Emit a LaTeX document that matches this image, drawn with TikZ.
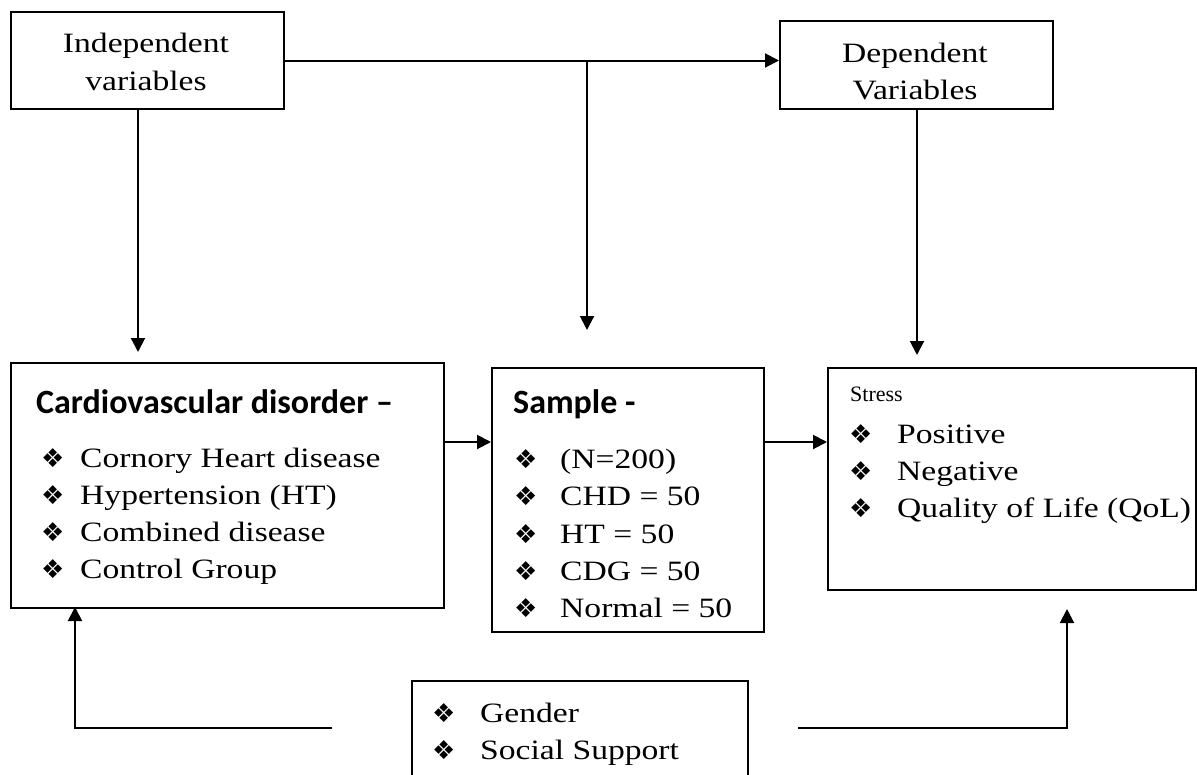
\documentclass[tikz,border=0pt]{standalone}
\usepackage{fontspec}
\setmainfont{Liberation Serif}[FakeStretch=1.2]
\newfontfamily\plainserif{Liberation Serif}
\newfontfamily\headfont{Carlito}
\newfontfamily\symfont{DejaVu Sans}
\usetikzlibrary{arrows.meta}
\begin{document}
\begin{tikzpicture}[x=1pt,y=-1pt,
  box/.style={draw, line width=2pt, anchor=north west, inner sep=0pt},
  arr/.style={line width=2pt, -{Triangle[length=14pt,width=14pt]}},
  itm/.style={anchor=base west, inner sep=0pt, font=\fontsize{28}{28}\selectfont},
  ctr/.style={anchor=base, inner sep=0pt, font=\fontsize{28}{28}\selectfont},
  bul/.style={anchor=base west, inner sep=0pt, font=\symfont\fontsize{26}{26}\selectfont},
  head/.style={anchor=base west, inner sep=0pt, font=\headfont\bfseries\fontsize{34}{34}\selectfont},
]
\useasboundingbox (0,0) rectangle (1197,774);
\clip (0,0) rectangle (1197,774);
% boxes
\node[box, minimum width=273pt, minimum height=97pt] (indep) at (10,11) {};
\node[box, minimum width=273pt, minimum height=88pt] (dep) at (779,20) {};
\node[box, minimum width=433pt, minimum height=245pt] (cardio) at (10,362) {};
\node[box, minimum width=272pt, minimum height=264pt] (sample) at (491,367) {};
\node[box, minimum width=368pt, minimum height=222pt] (stress) at (827,367) {};
\node[box, minimum width=336pt, minimum height=140pt] (mod) at (411,680) {};
% top texts
\node[ctr] (t1) at (146,52) {Independent};
\node[ctr] (t2) at (146,90) {variables};
\node[ctr] (t3) at (915,62) {Dependent};
\node[ctr] (t4) at (915,99) {Variables};
% cardio
\node[head] (ch) at (36,413) {Cardiovascular disorder –};
\node[bul] (cb1) at (41,467) {❖}; \node[itm] (c1) at (80,467) {Cornory Heart disease};
\node[bul] (cb2) at (41,504) {❖}; \node[itm] (c2) at (80,504) {Hypertension (HT)};
\node[bul] (cb3) at (41,541) {❖}; \node[itm] (c3) at (80,541) {Combined disease};
\node[bul] (cb4) at (41,578) {❖}; \node[itm] (c4) at (80,578) {Control Group};
% sample
\node[head] (sh) at (513,413) {Sample -};
\node[bul] (sb1) at (514,468) {❖}; \node[itm] (s1) at (560,468) {(N=200)};
\node[bul] (sb2) at (514,505) {❖}; \node[itm] (s2) at (560,505) {CHD = 50};
\node[bul] (sb3) at (514,543) {❖}; \node[itm] (s3) at (560,543) {HT = 50};
\node[bul] (sb4) at (514,580) {❖}; \node[itm] (s4) at (560,580) {CDG = 50};
\node[bul] (sb5) at (514,617) {❖}; \node[itm] (s5) at (560,617) {Normal = 50};
% stress
\node[anchor=base west, inner sep=0pt, font=\plainserif\fontsize{22}{22}\selectfont] (rh) at (850,401) {Stress};
\node[bul] (rb1) at (849,443) {❖}; \node[itm] (r1) at (897,443) {Positive};
\node[bul] (rb2) at (849,480) {❖}; \node[itm] (r2) at (897,480) {Negative};
\node[bul] (rb3) at (849,517) {❖}; \node[itm] (r3) at (897,517) {Quality of Life (QoL)};
% moderators
\node[bul] (mb1) at (432,722) {❖}; \node[itm] (m1) at (480,722) {Gender};
\node[bul] (mb2) at (432,759) {❖}; \node[itm] (m2) at (480,759) {Social Support};
% connector coordinates
\coordinate (mtop) at (587,61);
\coordinate (mtip) at (587,330);
\coordinate (ltop) at (138,108);
\coordinate (ltip) at (138,352);
\coordinate (rtop) at (917,108);
\coordinate (rtip) at (917,355);
\coordinate (bl) at (332,728);
\coordinate (bltip) at (75,607);
\coordinate (br) at (798,728);
\coordinate (brtip) at (1067,609);
% connectors
\draw[arr] (indep.east) -- (indep.east -| dep.west);
\draw[arr] (mtop) -- (mtip);
\draw[arr] (ltop) -- (ltip);
\draw[arr] (rtop) -- (rtip);
\draw[arr] (cardio.east |- 0,442) -- (sample.west |- 0,442);
\draw[arr] (sample.east |- 0,442) -- (stress.west |- 0,442);
\draw[arr] (bl) -| (bltip);
\draw[arr] (br) -| (brtip);
\end{tikzpicture}
\end{document}
